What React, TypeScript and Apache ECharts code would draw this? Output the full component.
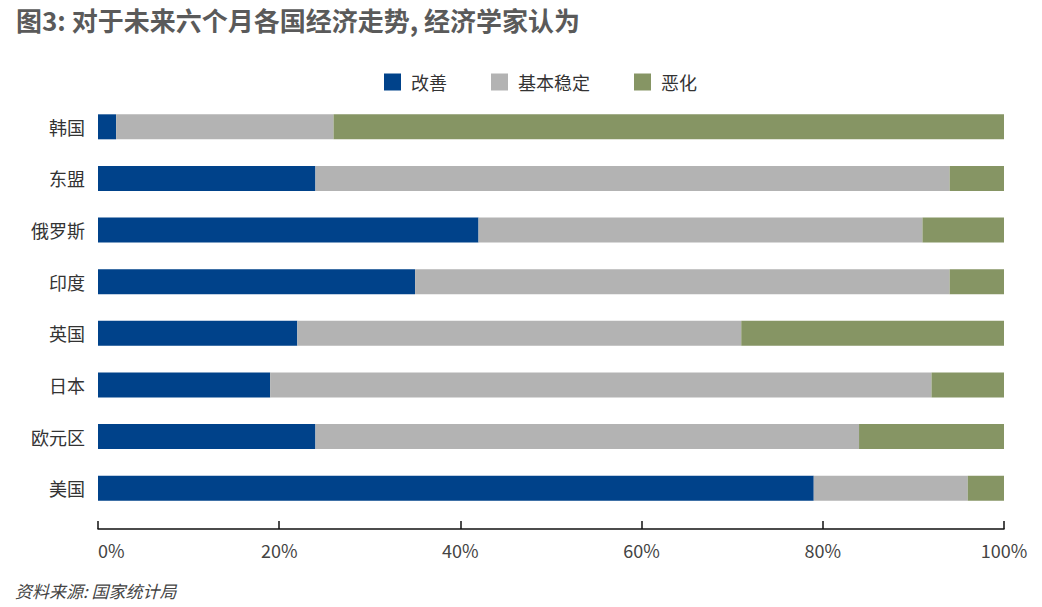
import React, { useEffect, useRef } from "react";
import * as echarts from "echarts";

const categories = ["美国", "欧元区", "日本", "英国", "印度", "俄罗斯", "东盟", "韩国"];
const improve = [79, 24, 19, 22, 35, 42, 24, 2];
const stable = [17, 60, 73, 49, 59, 49, 70, 24];
const worsen = [4, 16, 8, 29, 6, 9, 6, 74];
const seriesNames = ["改善", "基本稳定", "恶化"];
const colors = ["#00428a", "#b3b3b3", "#869564"];
const xTicks = [0, 20, 40, 60, 80, 100];

const FONT = "'Noto Sans CJK SC', 'Noto Sans', sans-serif";

export default function App() {
  const ref = useRef<HTMLDivElement>(null);
  useEffect(() => {
    const chart = echarts.init(ref.current!, null, { renderer: "svg" });
    const data = [improve, stable, worsen];
    chart.setOption({
      animation: false,
      textStyle: { fontFamily: FONT },
      title: {
        text: "图3: 对于未来六个月各国经济走势, 经济学家认为",
        left: 11,
        top: 1,
        textStyle: { fontFamily: FONT, fontSize: 26, fontWeight: "bold", color: "#5a5a5a" },
      },
      graphic: [
        {
          type: "text",
          left: 15,
          top: 582,
          style: {
            text: "资料来源: 国家统计局",
            font: `italic normal 17px ${FONT}`,
            fill: "#444",
          },
        },
      ],
      legend: {
        top: 68,
        left: 379,
        itemWidth: 17,
        itemHeight: 17,
        itemGap: 44,
        icon: "rect",
        textStyle: { fontSize: 18, color: "#333", fontFamily: FONT, padding: [0, 0, 0, 5] },
        data: seriesNames,
      },
      grid: { left: 98, right: 38, top: 101, bottom: 93, containLabel: false },
      xAxis: {
        type: "value",
        min: 0,
        max: 100,
        interval: 20,
        offset: 15,
        axisLine: { show: true, lineStyle: { color: "#111", width: 1.5 } },
        axisTick: { show: true, inside: true, length: 8, lineStyle: { color: "#111", width: 1.5 } },
        splitLine: { show: false },
        axisLabel: {
          formatter: (v: number) => (xTicks.includes(v) ? `${v}%` : ""),
          fontSize: 18,
          color: "#444",
          margin: 12,
          fontFamily: FONT,
          alignMinLabel: "left",
        },
      },
      yAxis: {
        type: "category",
        data: categories,
        axisLine: { show: false },
        axisTick: { show: false },
        axisLabel: { fontSize: 18, color: "#333", margin: 13, fontFamily: FONT },
      },
      series: seriesNames.map((name, i) => ({
        name,
        type: "bar",
        stack: "total",
        barWidth: 25,
        itemStyle: { color: colors[i] },
        data: data[i],
      })),
    });
    return () => chart.dispose();
  }, []);
  return <div ref={ref} style={{ width: 1042, height: 607, marginLeft: -8, marginTop: -8 }} />;
}
